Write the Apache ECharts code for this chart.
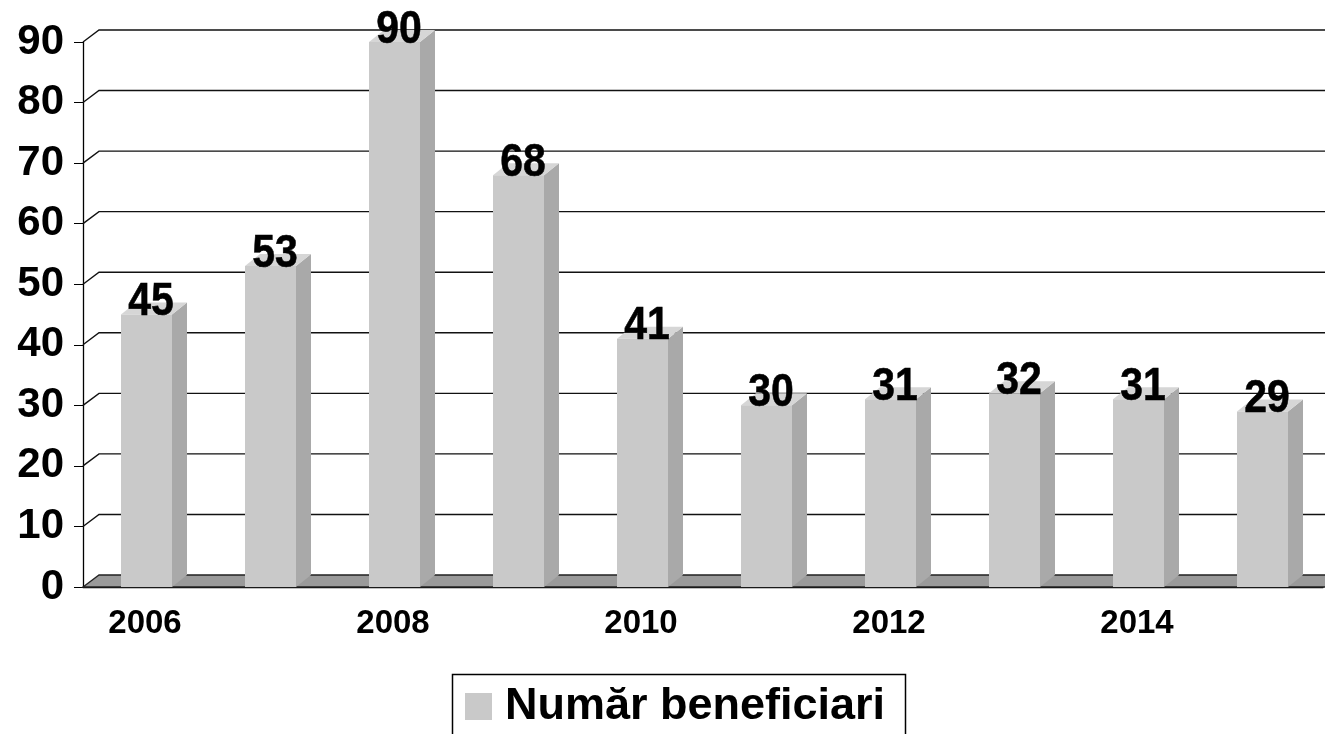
<!DOCTYPE html>
<html>
<head>
<meta charset="utf-8">
<script src="https://cdn.jsdelivr.net/npm/echarts@6/dist/echarts.min.js"></script>
<style>
  html, body { margin: 0; padding: 0; background: #fff; }
  #chart { width: 1325px; height: 734px; }
</style>
</head>
<body>
<div id="chart"></div>
<script>
const years = ['2006', '2007', '2008', '2009', '2010', '2011', '2012', '2013', '2014', '2015']
const beneficiari = [45, 53, 90, 68, 41, 30, 31, 32, 31, 29]
const yTicks = [0, 10, 20, 30, 40, 50, 60, 70, 80, 90]
const seriesName = 'Număr beneficiari'

const FONT = '"Liberation Sans", Arial, sans-serif'
// fake 3D depth of the chart walls
const DX = 16
const DY = 12

const renderWall = (params, api) => {
  const v = api.value(1)
  const cs = params.coordSys
  const y = api.coord([0, v])[1]
  const x0 = cs.x
  const x1 = cs.x + cs.width + DX
  if (v === 0) {
    return {
      type: 'polygon',
      shape: { points: [[x0, y], [x0 + DX, y - DY], [x1, y - DY], [x1, y]] },
      style: { fill: '#9a9a9a', stroke: '#222', lineWidth: 1.3 }
    }
  }
  return {
    type: 'polyline',
    shape: { points: [[x0, y], [x0 + DX, y - DY], [x1, y - DY]] },
    style: { fill: null, stroke: '#111', lineWidth: 1.4 }
  }
}

const renderBar = (params, api) => {
  const i = api.value(0)
  const v = api.value(1)
  const base = api.coord([i, 0])
  const top = api.coord([i, v])
  const cx = base[0]
  const xa = cx - 24
  const xb = cx + 27
  const yb = base[1]
  const yt = top[1]
  return {
    type: 'group',
    children: [
      {
        type: 'polygon',
        shape: { points: [[xb, yt], [xb + DX - 1, yt - DY], [xb + DX - 1, yb - DY], [xb, yb]] },
        style: { fill: '#a9a9a9' }
      },
      {
        type: 'polygon',
        shape: { points: [[xa, yt], [xa + DX - 1, yt - DY], [xb + DX - 1, yt - DY], [xb, yt]] },
        style: { fill: '#d6d6d6' }
      },
      {
        type: 'rect',
        shape: { x: xa, y: yt, width: xb - xa, height: yb - yt },
        style: { fill: '#c9c9c9' }
      },
      {
        type: 'text',
        x: cx + 6,
        y: yt - DY,
        scaleY: 1.12,
        style: {
          text: String(v),
          fontSize: 41,
          fontWeight: 'bold',
          fontFamily: FONT,
          fill: '#000',
          stroke: '#000',
          lineWidth: 0.5,
          align: 'center',
          verticalAlign: 'middle'
        }
      }
    ]
  }
}

const chart = echarts.init(document.getElementById('chart'))
chart.setOption({
  backgroundColor: '#fff',
  animation: false,
  grid: { left: 83, right: 2, top: 42, bottom: 147 },
  // legend frame runs off the bottom of the picture
  graphic: [
    {
      type: 'rect',
      left: 450,
      top: 672,
      shape: { width: 453, height: 100 },
      style: { fill: null, stroke: '#000', lineWidth: 1.5 }
    }
  ],
  legend: {
    data: [seriesName],
    left: 450,
    top: 672,
    padding: [12, 18, 12, 15],
    icon: 'rect',
    itemWidth: 27,
    itemHeight: 27,
    textStyle: {
      fontSize: 45,
      fontWeight: 'bold',
      fontFamily: FONT,
      color: '#000',
      padding: [0, 0, 0, 8]
    }
  },
  xAxis: {
    type: 'category',
    data: years,
    axisLine: { lineStyle: { color: '#000', width: 1.3 } },
    axisTick: { interval: 0, length: 8, lineStyle: { color: '#000' } },
    axisLabel: {
      interval: 1,
      margin: 20,
      fontSize: 33,
      fontWeight: 'bold',
      fontFamily: FONT,
      color: '#000'
    },
    splitLine: { show: false }
  },
  yAxis: {
    type: 'value',
    min: 0,
    max: 90,
    interval: 10,
    axisLine: { show: true, lineStyle: { color: '#000', width: 1.3 } },
    axisTick: { show: true, length: 9, lineStyle: { color: '#000' } },
    axisLabel: {
      margin: 19,
      fontSize: 42,
      fontWeight: 'bold',
      fontFamily: FONT,
      color: '#000'
    },
    splitLine: { show: false }
  },
  series: [
    {
      name: 'walls',
      type: 'custom',
      z: 1,
      silent: true,
      renderItem: renderWall,
      data: yTicks.map(v => [0, v])
    },
    {
      name: seriesName,
      type: 'custom',
      z: 3,
      itemStyle: { color: '#c9c9c9' },
      renderItem: renderBar,
      data: beneficiari.map((v, i) => [i, v])
    }
  ]
})
</script>
</body>
</html>
